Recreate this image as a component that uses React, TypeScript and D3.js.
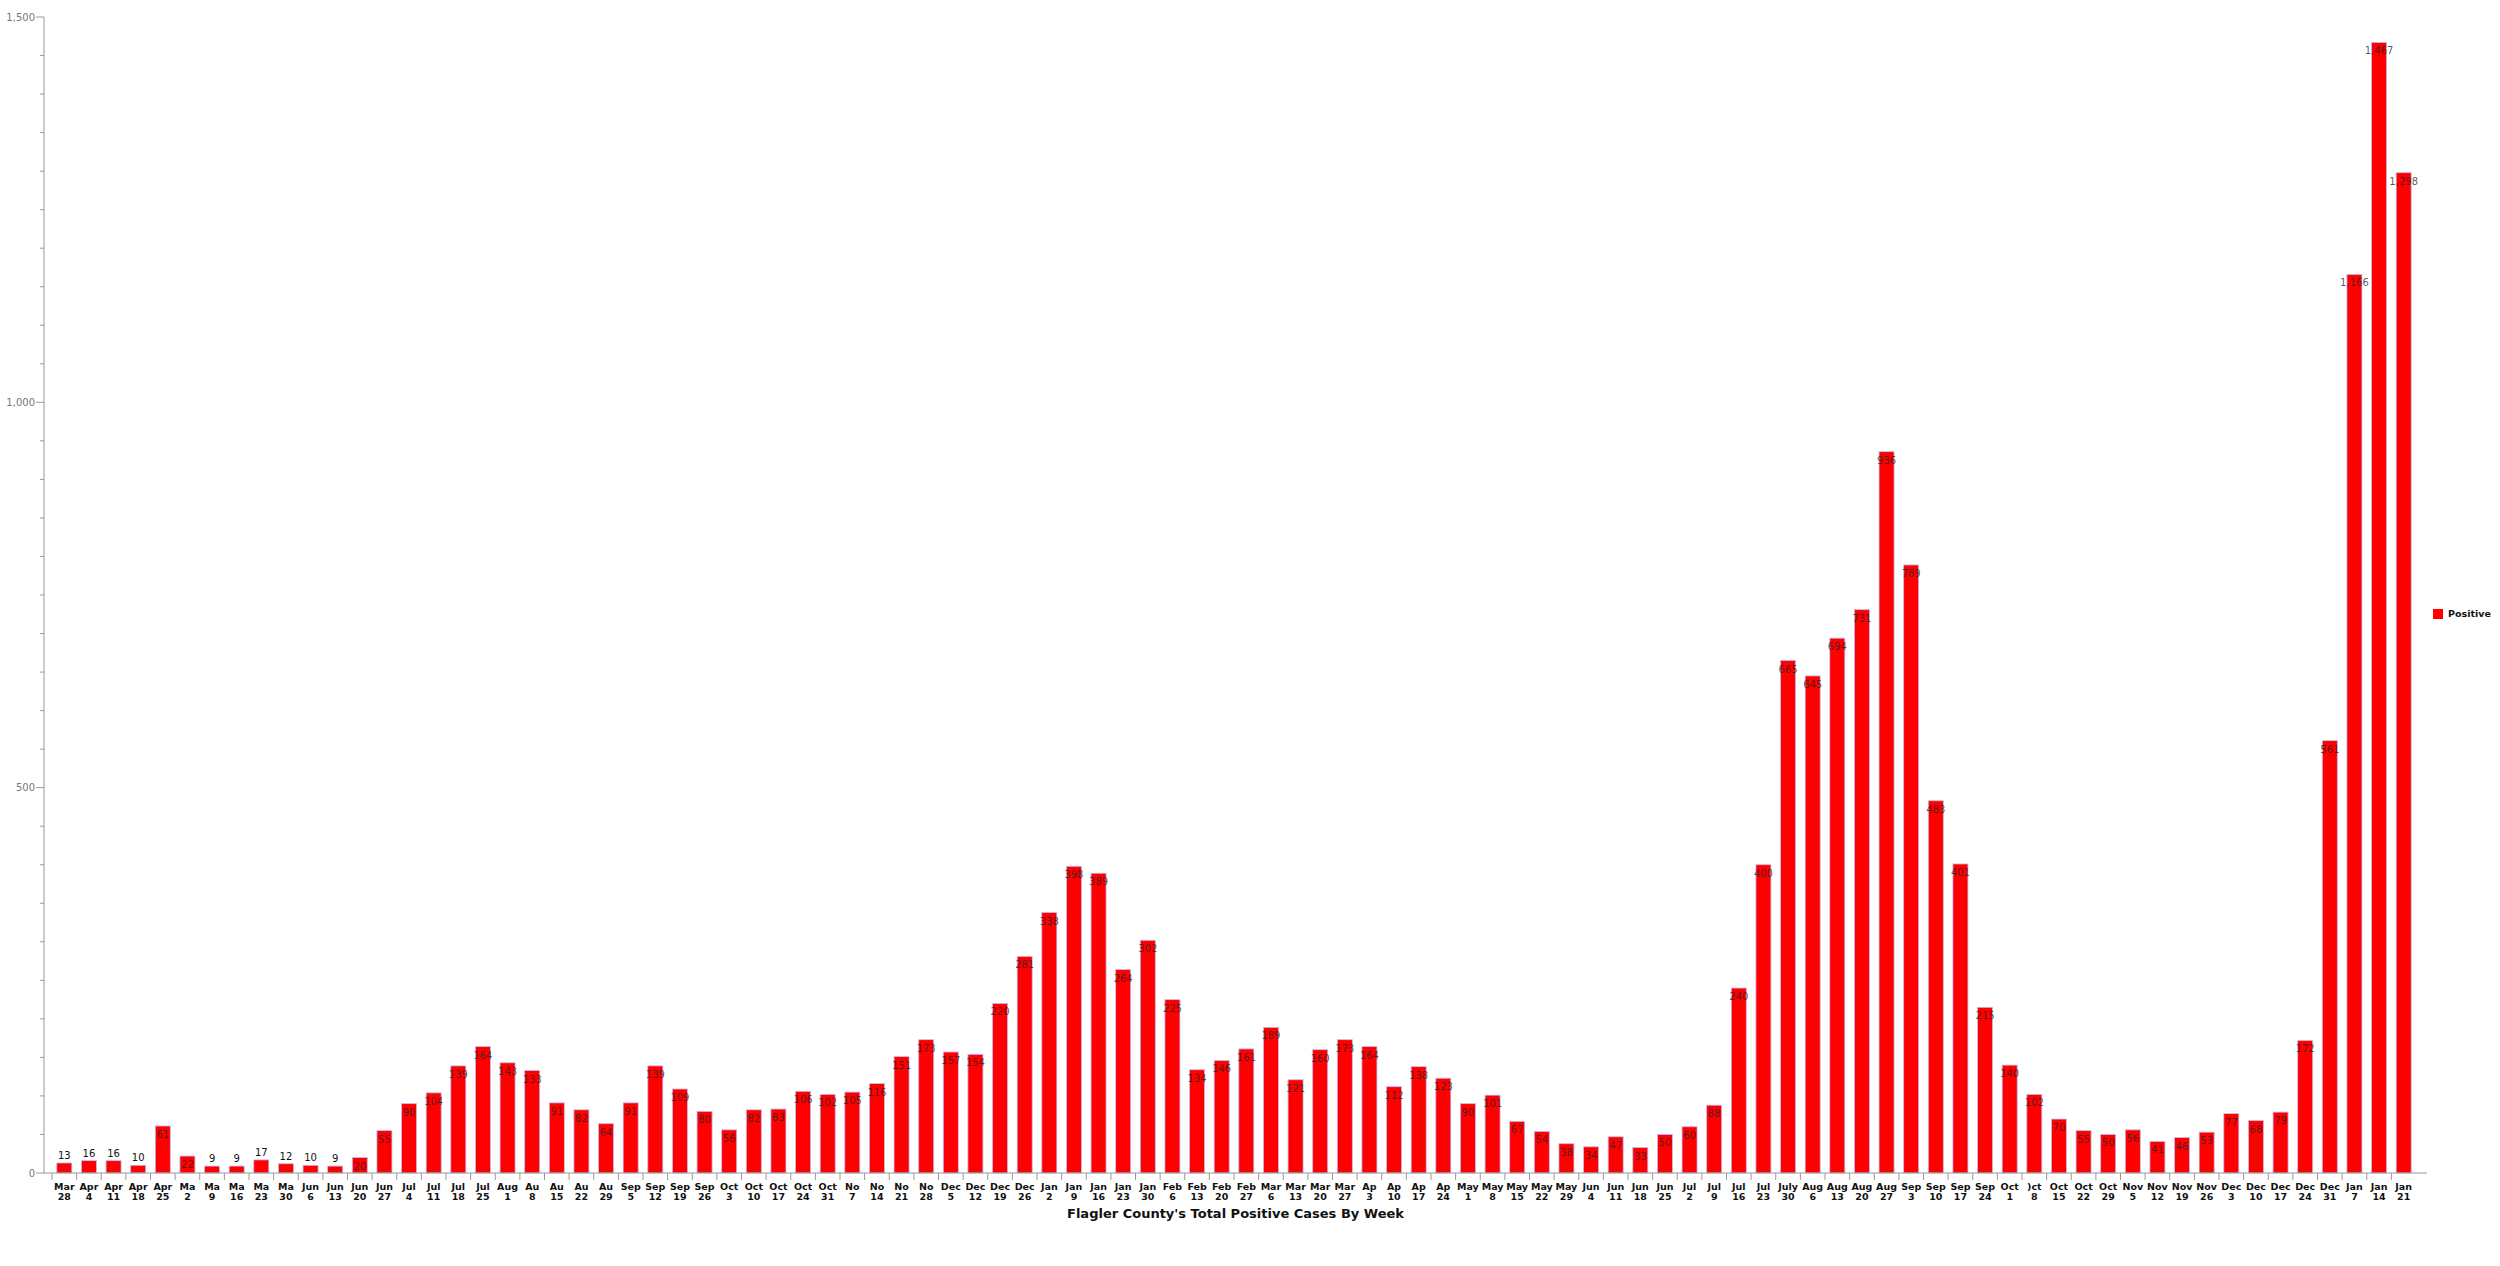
import React from 'react';
import * as d3 from 'd3';

// week labels, as printed under each bar (month on top, day below)
const months = [
  'Mar', 'Apr', 'Apr', 'Apr', 'Apr', 'Ma', 'Ma', 'Ma', 'Ma', 'Ma', 'Jun', 'Jun', 'Jun', 'Jun',
  'Jul', 'Jul', 'Jul', 'Jul', 'Aug', 'Au', 'Au', 'Au', 'Au', 'Sep', 'Sep', 'Sep', 'Sep',
  'Oct', 'Oct', 'Oct', 'Oct', 'Oct', 'No', 'No', 'No', 'No', 'Dec', 'Dec', 'Dec', 'Dec',
  'Jan', 'Jan', 'Jan', 'Jan', 'Jan', 'Feb', 'Feb', 'Feb', 'Feb', 'Mar', 'Mar', 'Mar', 'Mar',
  'Ap', 'Ap', 'Ap', 'Ap', 'May', 'May', 'May', 'May', 'May', 'Jun', 'Jun', 'Jun', 'Jun',
  'Jul', 'Jul', 'Jul', 'Jul', 'July', 'Aug', 'Aug', 'Aug', 'Aug', 'Sep', 'Sep', 'Sep', 'Sep',
  'Oct', ')ct', 'Oct', 'Oct', 'Oct', 'Nov', 'Nov', 'Nov', 'Nov', 'Dec', 'Dec', 'Dec', 'Dec', 'Dec',
  'Jan', 'Jan', 'Jan',
];
const days = [
  '28', '4', '11', '18', '25', '2', '9', '16', '23', '30', '6', '13', '20', '27',
  '4', '11', '18', '25', '1', '8', '15', '22', '29', '5', '12', '19', '26',
  '3', '10', '17', '24', '31', '7', '14', '21', '28', '5', '12', '19', '26',
  '2', '9', '16', '23', '30', '6', '13', '20', '27', '6', '13', '20', '27',
  '3', '10', '17', '24', '1', '8', '15', '22', '29', '4', '11', '18', '25',
  '2', '9', '16', '23', '30', '6', '13', '20', '27', '3', '10', '17', '24',
  '1', '8', '15', '22', '29', '5', '12', '19', '26', '3', '10', '17', '24', '31',
  '7', '14', '21',
];
const positives = [
  13, 16, 16, 10, 61, 22, 9, 9, 17, 12, 10, 9, 20, 55,
  90, 104, 139, 164, 143, 133, 91, 82, 64, 91, 139, 109, 80,
  56, 82, 83, 106, 102, 105, 116, 151, 173, 157, 154, 220, 281,
  338, 398, 389, 264, 302, 225, 134, 146, 161, 189, 121, 160, 173,
  164, 112, 138, 123, 90, 101, 67, 54, 38, 34, 47, 33, 50,
  60, 88, 240, 400, 665, 645, 694, 731, 936, 789, 483, 401, 215,
  140, 102, 70, 55, 50, 56, 41, 46, 53, 77, 68, 79, 172, 561,
  1166, 1467, 1298,
];
const yTicks = d3.range(0, 1501, 50);
const seriesName = 'Positive';
const title = "Flagler County's Total Positive Cases By Week";

export default function App() {
  const width = 2500;
  const height = 1266;
  const axisLeft = 44;
  const axisRight = 2427;
  const baseY = 1173;

  const x = d3.scaleBand<number>()
    .domain(d3.range(positives.length))
    .range([52, 2416])
    .paddingInner(0.39)
    .paddingOuter(0.195);
  const y = d3.scaleLinear().domain([0, 1500]).range([baseY, 17]);
  const fmt = d3.format(',');
  const step = x.step();
  const cellStart = (i: number) => (x(i) as number) - step * 0.195;

  return (
    <svg
      width={width}
      height={height}
      style={{ position: 'absolute', left: 0, top: 0, background: '#fff' }}
      fontFamily="DejaVu Sans, Verdana, sans-serif"
    >
      {/* bars */}
      {positives.map((v, i) => (
        <rect
          key={'b' + i}
          x={x(i)}
          y={y(v)}
          width={x.bandwidth()}
          height={baseY - y(v)}
          fill="#ff0000"
          stroke="#c4bcf2"
          strokeWidth={0.8}
        />
      ))}
      {/* value labels */}
      {positives.map((v, i) => {
        const cx = (x(i) as number) + x.bandwidth() / 2;
        return v < 19 ? (
          <text key={'v' + i} x={cx} y={y(v) - 4} textAnchor="middle" fontSize={10} fill="#111">
            {v}
          </text>
        ) : (
          <text key={'v' + i} x={cx} y={y(v) + 12} textAnchor="middle" fontSize={10} fill="#222" fillOpacity={0.75}>
            {fmt(v)}
          </text>
        );
      })}

      {/* y axis */}
      <line x1={axisLeft} x2={axisLeft} y1={y(1500)} y2={baseY} stroke="#999" />
      {yTicks.map(t => (
        <g key={'y' + t} transform={`translate(0,${y(t)})`}>
          <line x1={t % 500 === 0 ? axisLeft - 8 : axisLeft - 4} x2={axisLeft} stroke="#999" />
          {t % 500 === 0 && (
            <text x={axisLeft - 9} dy="0.35em" textAnchor="end" fontSize={10} fill="#777">
              {fmt(t)}
            </text>
          )}
        </g>
      ))}

      {/* x axis */}
      <line x1={axisLeft} x2={axisRight} y1={baseY} y2={baseY} stroke="#999" />
      {positives.map((_, i) => (
        <line key={'t' + i} x1={cellStart(i)} x2={cellStart(i)} y1={baseY} y2={baseY + 7} stroke="#999" />
      ))}
      {months.map((m, i) => {
        const cx = (x(i) as number) + x.bandwidth() / 2;
        return (
          <text key={'l' + i} x={cx} textAnchor="middle" fontSize={9.5} fontWeight="bold" fill="#111">
            <tspan x={cx} y={baseY + 17}>{m}</tspan>
            <tspan x={cx} y={baseY + 27}>{days[i]}</tspan>
          </text>
        );
      })}

      {/* title */}
      <text x={(axisLeft + axisRight) / 2} y={1218} textAnchor="middle" fontSize={13} fontWeight="bold" fill="#111">
        {title}
      </text>

      {/* legend */}
      <rect x={2433} y={609} width={10} height={10} fill="#ff0000" />
      <text x={2448} y={614} dy="0.35em" fontSize={9.5} fontWeight="bold" fill="#111">
        {seriesName}
      </text>
    </svg>
  );
}
